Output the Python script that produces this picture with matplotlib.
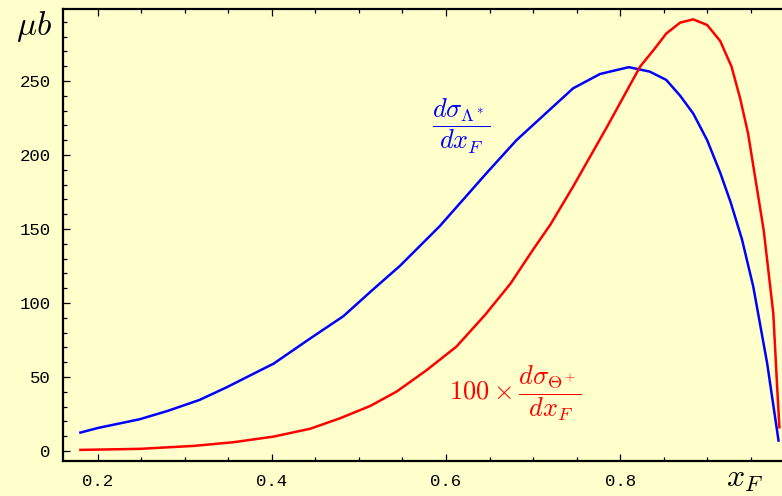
import matplotlib.pyplot as plt
from matplotlib.ticker import MultipleLocator

plt.rcParams['mathtext.fontset'] = 'cm'

# d sigma / d x_F for Lambda*
x_lam = [0.180, 0.200, 0.248, 0.280, 0.317, 0.348, 0.380, 0.402, 0.444, 0.482,
         0.516, 0.547, 0.593, 0.647, 0.681, 0.720, 0.746, 0.777, 0.810, 0.834,
         0.853, 0.869, 0.884, 0.900, 0.915, 0.927, 0.940, 0.953, 0.969, 0.982]
y_lam = [12.4, 15.5, 21.4, 27.0, 34.5, 43.0, 52.5, 59.0, 76.0, 91.0,
         109.0, 125.0, 152.0, 188.0, 210.0, 231.0, 245.0, 254.7, 259.3, 256.3,
         250.7, 240.0, 228.0, 210.0, 188.0, 168.0, 143.0, 111.0, 59.0, 7.0]

# 100 x d sigma / d x_F for Theta+
x_th = [0.180, 0.248, 0.310, 0.356, 0.402, 0.444, 0.478, 0.513, 0.543, 0.578,
        0.612, 0.645, 0.674, 0.700, 0.720, 0.746, 0.785, 0.823, 0.840, 0.853,
        0.869, 0.884, 0.900, 0.915, 0.928, 0.938, 0.947, 0.965, 0.976, 0.980,
        0.983]
y_th = [0.7, 1.4, 3.4, 5.9, 9.7, 15.0, 22.0, 30.4, 40.0, 54.7,
        70.5, 92.0, 113.0, 136.0, 153.0, 178.6, 219.0, 259.7, 272.0, 282.0,
        289.4, 291.6, 287.8, 277.0, 259.7, 238.0, 214.6, 149.0, 93.0, 48.0,
        16.0]

bg = '#ffffcc'
fig = plt.figure(figsize=(7.82, 4.96), dpi=100, facecolor=bg)
ax = fig.add_axes([63 / 782, 1 - 461 / 496, 1 - 63 / 782, (461 - 9) / 496])
ax.set_facecolor(bg)

ax.plot(x_lam, y_lam, color='#0000ff', linewidth=1.8, solid_joinstyle='round')
ax.plot(x_th, y_th, color='#ff0000', linewidth=1.8, solid_joinstyle='round')

ax.set_xlim(0.16, 0.986)
ax.set_ylim(-6.8, 298.6)

ax.xaxis.set_major_locator(MultipleLocator(0.2))
ax.xaxis.set_minor_locator(MultipleLocator(0.05))
ax.yaxis.set_major_locator(MultipleLocator(50))
ax.yaxis.set_minor_locator(MultipleLocator(10))
ax.set_xticks([0.2, 0.4, 0.6, 0.8])
ax.set_xticklabels(['0.2', '0.4', '0.6', '0.8'])

ax.spines['right'].set_visible(False)
for s in ['left', 'bottom', 'top']:
    ax.spines[s].set_linewidth(1.6)

ax.tick_params(which='both', direction='in', top=True, right=False,
               width=0.9, colors='black')
ax.tick_params(which='major', length=5, labelsize=12.5, pad=9)
ax.tick_params(which='minor', length=3)
for lab in ax.get_xticklabels() + ax.get_yticklabels():
    lab.set_fontfamily('Liberation Mono')

fig.text(34 / 782, 1 - 26 / 496, r'$\mu b$', fontsize=24, ha='center', va='center')
fig.text(745 / 782, 1 - 479 / 496, r'$x_F$', fontsize=23, ha='center', va='center')

ax.text(0.617, 219, r'$\dfrac{d\sigma_{\Lambda^*}}{dx_F}$', color='#0000ff',
        fontsize=19, ha='center', va='center')
ax.text(0.680, 39, r'$100\times\dfrac{d\sigma_{\Theta^+}}{dx_F}$', color='#ff0000',
        fontsize=19, ha='center', va='center')

plt.savefig('out.png', dpi=100, facecolor=bg)
